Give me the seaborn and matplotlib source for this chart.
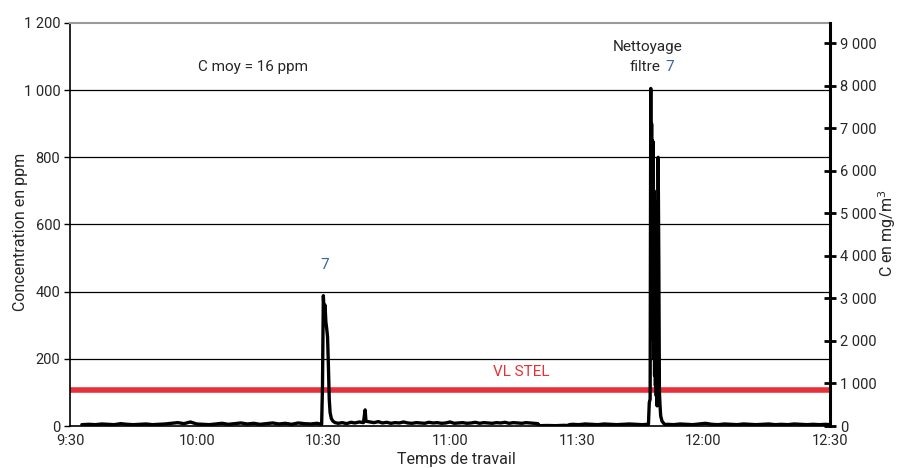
import matplotlib
matplotlib.use("Agg")
import matplotlib.pyplot as plt
import seaborn as sns
import pandas as pd
from matplotlib.ticker import FuncFormatter, FixedLocator

# ---- data (minutes after 9:30, concentration in ppm) ----
t_before = [2.8, 4.5, 6, 7.5, 9, 10.5, 12, 13.5, 15, 16.5, 18, 19.5, 21, 22.5, 24, 25.5, 27,
            28.5, 30, 31.5, 33, 34.5, 36, 37.5, 39, 40.5, 42, 43.5, 45, 46.5, 48, 49.5, 51,
            52.5, 54, 55.5, 57, 58.5, 59.6]
c_before = [4, 5, 4, 6, 5, 4, 7, 5, 4, 5, 6, 4, 5, 6, 8, 10, 7, 12, 6, 5, 4, 6, 8, 5, 7, 9,
            6, 8, 5, 7, 9, 6, 8, 5, 9, 7, 6, 8, 5]

t_peak1 = [59.8, 60.0, 60.2, 60.4, 60.6, 60.8, 61.0, 61.2, 61.4, 61.6, 61.9, 62.3, 62.8]
c_peak1 = [120, 388, 340, 360, 310, 290, 265, 180, 80, 40, 22, 14, 10]

t_middle = [63.5, 64.5, 65.5, 66.5, 67.5, 68.5, 69.5, 69.9, 70.1, 71, 72, 73, 74, 75, 76, 77,
            78, 79, 80, 81, 82, 83, 84, 85, 86, 87, 88, 89, 90, 91, 92, 93, 94, 95, 96, 97,
            98, 99, 100, 101, 102, 103, 104, 105, 106, 107, 108, 109, 110, 110.8]
c_middle = [8, 10, 7, 11, 9, 12, 10, 48, 14, 12, 10, 13, 9, 11, 8, 10, 9, 12, 9, 8, 10, 9, 8,
            11, 9, 10, 8, 9, 12, 8, 9, 10, 8, 9, 11, 8, 10, 9, 8, 10, 9, 11, 8, 10, 9, 8, 10,
            9, 8, 7]

t_dip = [111.2, 113, 115, 117, 117.8, 118.3]
c_dip = [1, 1.5, 1, 2, 1.5, 4]

t_calm = [119, 120.5, 122, 123.5, 125, 126.5, 128, 129.5, 131, 132.5, 134, 135.5, 136.8]
c_calm = [5, 4, 6, 5, 4, 6, 5, 4, 5, 6, 5, 4, 5]

t_peak2 = [137.0, 137.2, 137.4, 137.55, 137.65, 137.75, 137.85, 137.95, 138.05, 138.15,
           138.25, 138.35, 138.45, 138.55, 138.65, 138.75, 138.85, 138.95, 139.05, 139.15,
           139.3, 139.45, 139.6, 139.75, 139.9, 140.2, 140.6, 141.0]
c_peak2 = [5, 70, 80, 1005, 300, 900, 260, 850, 350, 845, 200, 700, 150, 670, 120, 650,
           90, 600, 60, 300, 800, 500, 100, 60, 30, 15, 8, 4]

t_after = [141.5, 143, 144.5, 146, 147.5, 149, 150.5, 152, 153.5, 155, 156.5, 158, 159.5,
           161, 162.5, 164, 165.5, 167, 168.5, 170, 171.5, 173, 174.5, 176, 177.5, 179, 180]
c_after = [5, 4, 6, 5, 4, 6, 8, 5, 4, 6, 5, 4, 6, 5, 4, 5, 6, 4, 5, 4, 6, 5, 4, 5, 4, 5, 4]

tick_minutes = [0, 30, 60, 90, 120, 150, 180]
tick_labels = ["9:30", "10:00", "10:30", "11:00", "11:30", "12:00", "12:30"]
ppm_ticks = [0, 200, 400, 600, 800, 1000, 1200]
mg_ticks = [0, 1000, 2000, 3000, 4000, 5000, 6000, 7000, 8000, 9000]
vl_stel_ppm = 107
ppm_to_mg = 7.9
c_moy_text = "C moy = 16 ppm"

times = t_before + t_peak1 + t_middle + t_dip + t_calm + t_peak2 + t_after
conc = c_before + c_peak1 + c_middle + c_dip + c_calm + c_peak2 + c_after
df = pd.DataFrame({"minutes": times, "ppm": conc})

# ---- style ----
sns.set_style("white")
plt.rcParams["font.family"] = ["Roboto", "DejaVu Sans"]
plt.rcParams["font.size"] = 10

fig, ax = plt.subplots(figsize=(8.98, 4.68), dpi=100)
fig.subplots_adjust(left=70 / 898, right=830 / 898, top=1 - 23 / 468, bottom=1 - 426 / 468)

for y in ppm_ticks[1:-1]:
    ax.axhline(y, color="black", lw=0.9, zorder=1)

ax.axhline(vl_stel_ppm, color="#e8303a", lw=4, zorder=2)

sns.lineplot(data=df, x="minutes", y="ppm", ax=ax, color="black", lw=2.4,
             sort=False, estimator=None, zorder=3)

ax.set_xlim(tick_minutes[0], tick_minutes[-1])
ax.set_ylim(ppm_ticks[0], ppm_ticks[-1])
ax.xaxis.set_major_locator(FixedLocator(tick_minutes))
ax.set_xticklabels(tick_labels)
ax.yaxis.set_major_locator(FixedLocator(ppm_ticks))


def spaced(v, pos):
    return f"{int(round(v)):,}".replace(",", " ")


ax.yaxis.set_major_formatter(FuncFormatter(spaced))
ax.set_xlabel("Temps de travail", fontsize=11.5)
ax.set_ylabel("Concentration en ppm", fontsize=11.5)
ax.xaxis.set_label_coords(0.508, -0.082)
ax.xaxis.label.set_va("center")
ax.yaxis.set_label_coords(-0.0645, 0.481)
ax.yaxis.label.set_va("center")
ax.tick_params(axis="y", direction="out", length=4, width=1, color="black", pad=3, labelsize=10.5)
ax.tick_params(axis="x", direction="inout", length=6, width=1, color="black", pad=3, labelsize=10.5)

for s in ["left", "bottom"]:
    ax.spines[s].set_color("black")
    ax.spines[s].set_linewidth(1.2)
ax.spines["top"].set_color("#9a9a9a")
ax.spines["top"].set_linewidth(1.5)
ax.spines["right"].set_visible(False)

ax2 = ax.twinx()
ax2.set_ylim(ppm_ticks[0] * ppm_to_mg, ppm_ticks[-1] * ppm_to_mg)
ax2.yaxis.set_major_locator(FixedLocator(mg_ticks))
ax2.yaxis.set_major_formatter(FuncFormatter(spaced))
ax2.tick_params(axis="y", direction="inout", length=8, width=2, color="black", pad=3, labelsize=10.5)
ax2.set_ylabel("C en mg/m$^3$", fontsize=11.5)
ax2.yaxis.set_label_coords(1.075, 0.478)
ax2.yaxis.label.set_va("center")
for s in ["left", "top", "bottom"]:
    ax2.spines[s].set_visible(False)
ax2.spines["right"].set_color("black")
ax2.spines["right"].set_linewidth(2.2)
ax2.grid(False)

# ---- annotations ----
ax.text(43.4, 1070, c_moy_text, ha="center", va="center", fontsize=11)
ax.text(106.8, 161, "VL STEL", ha="center", va="center", fontsize=11, color="#e8303a")
ax.text(60.4, 480, "7", ha="center", va="center", fontsize=11, color="#3a63a8")
ax.text(136.7, 1128, "Nettoyage", ha="center", va="center", fontsize=11)
ax.text(139.8, 1070, "filtre", ha="right", va="center", fontsize=11)
ax.text(140.9, 1070, "7", ha="left", va="center", fontsize=11, color="#3a63a8")

fig.savefig("out.png", dpi=100)
